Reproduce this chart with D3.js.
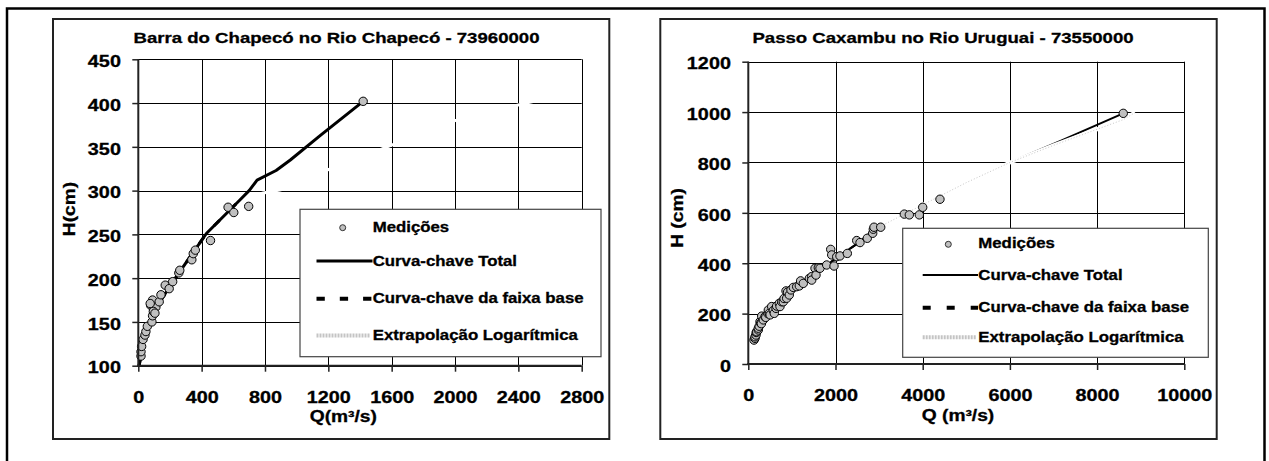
<!DOCTYPE html>
<html>
<head>
<meta charset="utf-8">
<script src="https://cdn.jsdelivr.net/npm/d3@7"></script>
<style>
  body { margin: 0; background: #fff; }
  text { font-family: "Liberation Sans", Arial, sans-serif; font-weight: bold; fill: #000; stroke: #000; stroke-width: 0.3px; }
</style>
</head>
<body>
<svg id="fig" width="1269" height="461"></svg>
<script>
// ---------- data: Barra do Chapecó (left) ----------
const leftMedQ = [17, 17, 21, 30, 42, 48, 57, 86, 78, 90, 99, 111, 90, 75, 95, 105, 132, 143, 170, 195, 217, 256, 262, 338, 347, 360, 456, 567, 603, 697, 1420];
const leftMedH = [111, 116, 122, 130, 135, 139, 145, 150, 169, 157, 164, 167, 175, 171, 162, 160, 173, 181, 192, 188, 196, 206, 209, 221, 228, 232, 243, 281, 275, 282, 402];
const leftTotalQ = [5, 30, 100, 260, 430, 640, 700, 750, 870, 960, 1150, 1420];
const leftTotalH = [100, 125, 163, 207, 251, 289, 300, 312, 323, 335, 363, 402];
const leftBaseQ = [5, 30, 100, 260, 430, 640];
const leftBaseH = [100, 125, 163, 207, 251, 289];
const leftExtQ = [780, 900, 1200, 1600, 2000, 2450, 2550];
const leftExtH = [297, 301, 324, 352, 380, 400, 404];
const leftXTicks = [0, 400, 800, 1200, 1600, 2000, 2400, 2800];
const leftYTicks = [100, 150, 200, 250, 300, 350, 400, 450];

// ---------- data: Passo Caxambu (right) ----------
const rightMedQ = [131, 154, 154, 177, 180, 193, 229, 229, 250, 268, 284, 300, 307, 344, 383, 400, 450, 459, 482, 500, 536, 573, 596, 635, 650, 711, 727, 766, 803, 820, 865, 880, 900, 940, 979, 1032, 1110, 1170, 1200, 1261, 1400, 1454, 1454, 1530, 1553, 1606, 1644, 1798, 1890, 1913, 1966, 2028, 2103, 2271, 2486, 2562, 2729, 2853, 2867, 2883, 3037, 3578, 3693, 3922, 4000, 4396, 8600];
const rightMedH = [95, 102, 108, 115, 125, 128, 135, 142, 150, 168, 162, 160, 190, 175, 188, 185, 200, 214, 201, 195, 228, 212, 201, 221, 230, 241, 228, 247, 247, 260, 290, 261, 285, 274, 294, 304, 307, 310, 330, 320, 340, 347, 333, 380, 353, 382, 380, 393, 455, 433, 389, 426, 429, 439, 490, 482, 499, 519, 535, 543, 543, 595, 592, 592, 622, 654, 995];
const rightTotalQ = [100, 200, 350, 500, 750, 1000, 1500, 2000, 2500, 2900, 4000, 5000, 6000, 7200, 8600];
const rightTotalH = [85, 130, 175, 207, 255, 298, 357, 418, 478, 535, 632, 720, 800, 889, 995];
const rightBaseQ = [100, 200, 350, 500, 750, 1000, 1500, 2000, 2500, 2900];
const rightBaseH = [85, 130, 175, 207, 255, 298, 357, 418, 478, 535];
const rightExtQ = [2900, 4000, 5000, 6000, 7000, 8600, 8870];
const rightExtH = [535, 632, 720, 800, 868, 970, 998];
const rightXTicks = [0, 2000, 4000, 6000, 8000, 10000];
const rightYTicks = [0, 200, 400, 600, 800, 1000, 1200];

const legendLabels = ["Medições", "Curva-chave Total", "Curva-chave da faixa base", "Extrapolação Logarítmica"];

// text in the picture is drawn wider than the plain font
const SX = 1.2;

const svg = d3.select("#fig");

// outer frame
svg.append("rect")
  .attr("x", 7).attr("y", 8.5).attr("width", 1257.5).attr("height", 520)
  .attr("fill", "none").attr("stroke", "#000").attr("stroke-width", 2.5);

function zip(a, b) { return a.map((d, i) => [d, b[i]]); }

function addText(g, x, y, str, size, anchor, rotate) {
  return g.append("text")
    .attr("transform", `translate(${x},${y})` + (rotate ? " rotate(-90)" : "") + ` scale(${SX},1)`)
    .attr("text-anchor", anchor)
    .style("font-size", size + "px")
    .text(str);
}

function drawChart(cfg) {
  const g = svg.append("g");

  // chart box
  g.append("rect")
    .attr("x", cfg.box[0]).attr("y", cfg.box[1])
    .attr("width", cfg.box[2] - cfg.box[0]).attr("height", cfg.box[3] - cfg.box[1])
    .attr("fill", "#fff").attr("stroke", "#222").attr("stroke-width", 2);

  addText(g, cfg.titleX, 42.7, cfg.title, 15.5, "middle");

  const x = d3.scaleLinear().domain(cfg.xDomain).range([cfg.plot[0], cfg.plot[2]]);
  const y = d3.scaleLinear().domain(cfg.yDomain).range([cfg.plot[3], cfg.plot[1]]);

  // grid
  g.append("g").selectAll("line").data(cfg.yTicks).join("line")
    .attr("x1", cfg.plot[0]).attr("x2", cfg.plot[2])
    .attr("y1", d => Math.round(y(d)) + 0.5).attr("y2", d => Math.round(y(d)) + 0.5)
    .attr("stroke", "#000").attr("stroke-width", 1);
  g.append("g").selectAll("line").data(cfg.xTicks).join("line")
    .attr("x1", d => Math.round(x(d)) + 0.5).attr("x2", d => Math.round(x(d)) + 0.5)
    .attr("y1", cfg.plot[1]).attr("y2", cfg.plot[3])
    .attr("stroke", "#000").attr("stroke-width", 1);

  const line = d3.line().x(d => x(d[0])).y(d => y(d[1]));

  // base curve (sits under the total curve)
  g.append("path").datum(cfg.base).attr("d", line)
    .attr("fill", "none").attr("stroke", "#000").attr("stroke-width", cfg.totalWidth)
    .attr("stroke-dasharray", "8,15");

  g.append("path").datum(cfg.total).attr("d", line)
    .attr("fill", "none").attr("stroke", "#000").attr("stroke-width", cfg.totalWidth)
    .attr("stroke-linejoin", "round");

  // logarithmic extrapolation: very light, hides the grid where it crosses
  g.append("path").datum(cfg.ext).attr("d", line)
    .attr("fill", "none").attr("stroke", "#fff").attr("stroke-width", cfg.extWidth);
  if (cfg.extDots) {
    g.append("path").datum(cfg.ext).attr("d", line)
      .attr("fill", "none").attr("stroke", "#c8c8c8").attr("stroke-width", 1)
      .attr("stroke-dasharray", "1,2");
  }

  g.append("g").selectAll("circle").data(cfg.med).join("circle")
    .attr("cx", d => x(d[0])).attr("cy", d => y(d[1])).attr("r", 4.2)
    .attr("fill", "#c0c0c0").attr("stroke", "#000").attr("stroke-width", 1);

  // axes
  const yAxis = d3.axisLeft(y).tickValues(cfg.yTicks).tickSize(6).tickPadding(8.5).tickFormat(d3.format("d"));
  const gy = g.append("g").attr("transform", `translate(${cfg.plot[0]},0)`).call(yAxis);
  gy.select(".domain").remove();
  gy.selectAll("line").attr("stroke", "#222").attr("stroke-width", 1.5);
  gy.selectAll("text").attr("dy", "0.44em").style("font-size", "16.5px").attr("transform", `scale(${SX},1)`);

  const xAxis = d3.axisBottom(x).tickValues(cfg.xTicks).tickSize(6).tickPadding(19.5).tickFormat(d3.format("d"));
  const gx = g.append("g").attr("transform", `translate(0,${cfg.plot[3]})`).call(xAxis);
  gx.select(".domain").remove();
  gx.selectAll("line").attr("stroke", "#222").attr("stroke-width", 1.5);
  gx.selectAll("text").style("font-size", "16.5px").attr("transform", `scale(${SX},1)`);

  g.append("line")
    .attr("x1", cfg.plot[0]).attr("x2", cfg.plot[0]).attr("y1", cfg.plot[1]).attr("y2", cfg.plot[3] + 1)
    .attr("stroke", "#222").attr("stroke-width", 2);
  g.append("line")
    .attr("x1", cfg.plot[0] - 1).attr("x2", cfg.plot[2]).attr("y1", cfg.plot[3]).attr("y2", cfg.plot[3])
    .attr("stroke", "#222").attr("stroke-width", 2);

  addText(g, cfg.xTitleX, cfg.xTitleY, cfg.xTitle, 16, "middle");
  addText(g, cfg.yTitleX, cfg.yTitleY, cfg.yTitle, 16, "middle", true);

  // legend
  const L = cfg.legend;
  const lg = g.append("g");
  lg.append("rect")
    .attr("x", L.box[0]).attr("y", L.box[1]).attr("width", L.box[2] - L.box[0]).attr("height", L.box[3] - L.box[1])
    .attr("fill", "#fff").attr("stroke", "#444").attr("stroke-width", 1.2);
  legendLabels.forEach((lab, i) => {
    addText(lg, L.textX, L.rows[i], lab, 14, "start");
  });
  lg.append("circle").attr("cx", L.markX).attr("cy", L.rows[0] - 4).attr("r", 3)
    .attr("fill", "#c0c0c0").attr("stroke", "#333").attr("stroke-width", 1);
  lg.append("line").attr("x1", L.x0).attr("x2", L.x1).attr("y1", L.rows[1] - 5).attr("y2", L.rows[1] - 5)
    .attr("stroke", "#000").attr("stroke-width", cfg.totalWidth);
  lg.append("line").attr("x1", L.x0).attr("x2", L.x1).attr("y1", L.rows[2] - 4).attr("y2", L.rows[2] - 4)
    .attr("stroke", "#000").attr("stroke-width", 4).attr("stroke-dasharray", L.dash);
  lg.append("line").attr("x1", L.x0).attr("x2", L.x1 - 2).attr("y1", L.rows[3] - 4.5).attr("y2", L.rows[3] - 4.5)
    .attr("stroke", "#c4c4c4").attr("stroke-width", 4).attr("stroke-dasharray", "2,1");
}

drawChart({
  title: "Barra do Chapecó no Rio Chapecó - 73960000",
  titleX: 336.5,
  box: [53, 19, 609.3, 439],
  plot: [138.3, 59.3, 581.7, 365.7],
  xDomain: [0, 2800], yDomain: [100, 450],
  xTicks: leftXTicks, yTicks: leftYTicks,
  med: zip(leftMedQ, leftMedH),
  total: zip(leftTotalQ, leftTotalH),
  base: zip(leftBaseQ, leftBaseH),
  ext: zip(leftExtQ, leftExtH),
  extDots: false, extWidth: 3,
  totalWidth: 3,
  xTitle: "Q(m³/s)", xTitleX: 343.3, xTitleY: 421.5,
  yTitle: "H(cm)", yTitleX: 74.5, yTitleY: 209,
  legend: { box: [300, 209.3, 601, 356.7], rows: [231.7, 266, 302.7, 340], textX: 372.7, markX: 342.7, x0: 316.5, x1: 372.5, dash: "8.3,15" }
});

drawChart({
  title: "Passo Caxambu no Rio Uruguai - 73550000",
  titleX: 943,
  box: [660.3, 19, 1216.7, 439],
  plot: [748.3, 61.7, 1184.3, 364],
  xDomain: [0, 10000], yDomain: [0, 1200],
  xTicks: rightXTicks, yTicks: rightYTicks,
  med: zip(rightMedQ, rightMedH),
  total: zip(rightTotalQ, rightTotalH),
  base: zip(rightBaseQ, rightBaseH),
  ext: zip(rightExtQ, rightExtH),
  extDots: true, extWidth: 4,
  totalWidth: 2,
  xTitle: "Q (m³/s)", xTitleX: 958, xTitleY: 420.5,
  yTitle: "H (cm)", yTitleX: 682.5, yTitleY: 218,
  legend: { box: [902.7, 228.3, 1208.3, 357.3], rows: [248.3, 280, 311.7, 341.7], textX: 978.3, markX: 948.3, x0: 922.7, x1: 978, dash: "8,16" }
});
</script>
</body>
</html>
